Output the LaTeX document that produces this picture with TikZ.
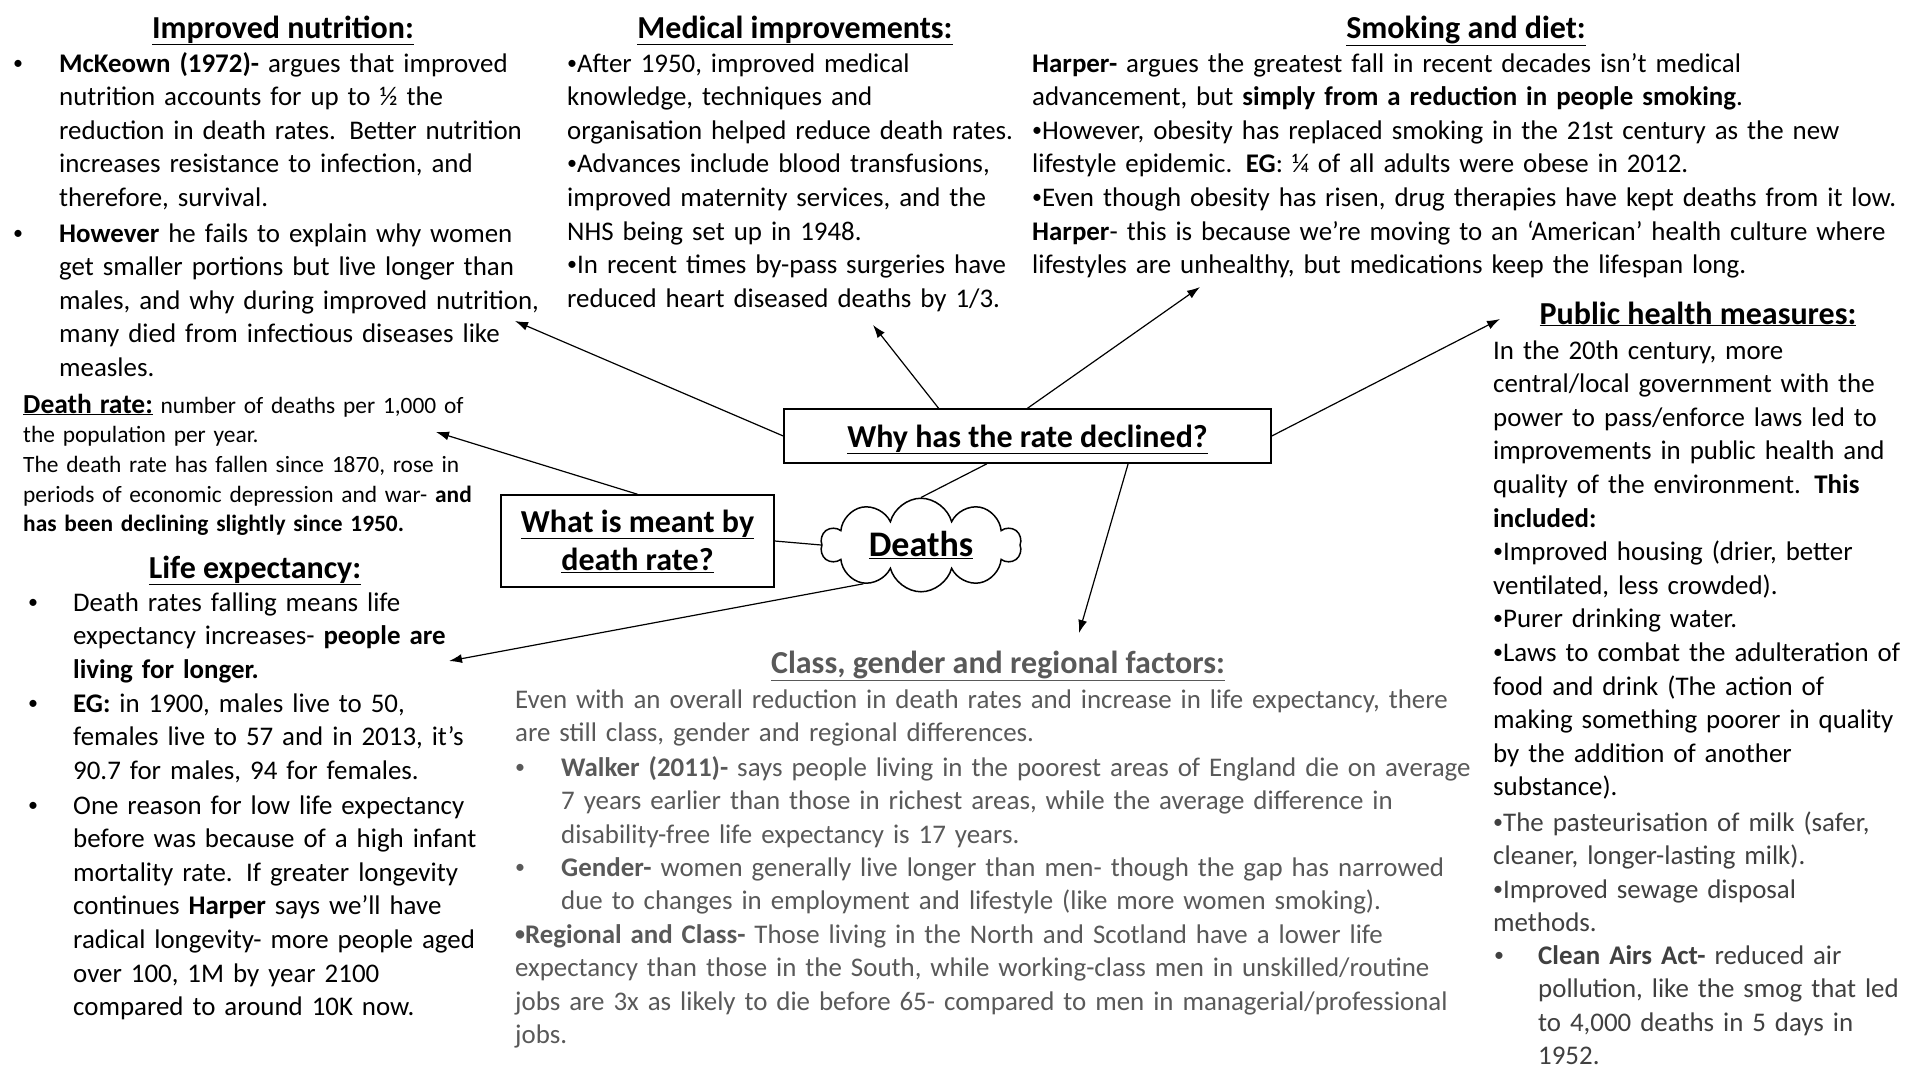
\documentclass[tikz,border=0pt]{standalone}
\usepackage{fontspec}
\setmainfont{Carlito}
\usetikzlibrary{calc,arrows.meta,shapes.symbols}
\definecolor{classgrey}{HTML}{595959}
\definecolor{darkgrey}{HTML}{404040}
\newcommand\myul[1]{\underline{#1}}
\newcommand\sbul{\raisebox{3pt}{\fontsize{20}{20}\selectfont •}}
\begin{document}
\begin{tikzpicture}[x=1pt,y=1pt,
 body/.style={anchor=base west, inner sep=0, text width=1000pt, align=left, font=\fontsize{26.9}{33.6}\selectfont},
 head/.style={anchor=base, inner sep=0, font=\fontsize{32}{38}\selectfont\bfseries},
 dot/.style={anchor=base, inner sep=0, font=\fontsize{26.9}{33.6}\selectfont},
 conn/.style={line width=1.2pt},
 arr/.style={conn, -{Latex[length=13pt,width=9pt]}},
 box/.style={draw, line width=1.5pt, inner sep=0, font=\fontsize{32}{38}\selectfont\bfseries}]
\useasboundingbox (0,0) rectangle (1920,-1080);
\fill[white] (0,0) rectangle (1920,-1080);

% Improved nutrition
\node[head] (hnut) at (283,-38) {\myul{Improved nutrition:}};
\node[dot] (b1) at (18,-72) {\sbul};
\node[body] (nut1) at (59,-72) {\textbf{McKeown (1972)-} argues that improved\\ nutrition accounts for up to ½ the\\ reduction in death rates. Better nutrition\\ increases resistance to infection, and\\ therefore, survival.};
\node[dot] (b2) at (18,-242) {\sbul};
\node[body] (nut2) at (59,-242) {\textbf{However} he fails to explain why women\\ get smaller portions but live longer than\\ males, and why during improved nutrition,\\ many died from infectious diseases like\\ measles.};

% Medical improvements
\node[head] (hmed) at (795,-38) {\myul{Medical improvements:}};
\node[body] (med) at (567,-72) {\sbul After 1950, improved medical\\ knowledge, techniques and\\ organisation helped reduce death rates.\\ \sbul Advances include blood transfusions,\\ improved maternity services, and the\\ NHS being set up in 1948.\\ \sbul In recent times by-pass surgeries have\\ reduced heart diseased deaths by 1/3.};

% Smoking and diet
\node[head] (hsmo) at (1466,-38) {\myul{Smoking and diet:}};
\node[body] (smo) at (1032,-72) {\textbf{Harper-} argues the greatest fall in recent decades isn’t medical\\ advancement, but \textbf{simply from a reduction in people smoking}.\\ \sbul However, obesity has replaced smoking in the 21st century as the new\\ lifestyle epidemic. \textbf{EG}: ¼ of all adults were obese in 2012.\\ \sbul Even though obesity has risen, drug therapies have kept deaths from it low.\\ \textbf{Harper}- this is because we’re moving to an ‘American’ health culture where\\ lifestyles are unhealthy, but medications keep the lifespan long.};

% Public health measures
\node[head] (hpub) at (1698,-324) {\myul{Public health measures:}};
\node[body] (pub1) at (1493,-359) {In the 20th century, more\\ central/local government with the\\ power to pass/enforce laws led to\\ improvements in public health and\\ quality of the environment. \textbf{This}\\ \textbf{included:}\\ \sbul Improved housing (drier, better\\ ventilated, less crowded).\\ \sbul Purer drinking water.\\ \sbul Laws to combat the adulteration of\\ food and drink (The action of\\ making something poorer in quality\\ by the addition of another\\ substance).};
\node[body, text=darkgrey] (pub2) at (1493,-831) {\sbul The pasteurisation of milk (safer,\\ cleaner, longer-lasting milk).\\ \sbul Improved sewage disposal\\ methods.};
\node[dot, text=darkgrey] (b5) at (1499,-964) {\sbul};
\node[body, text=darkgrey] (pub3) at (1538,-964) {\textbf{Clean Airs Act-} reduced air\\ pollution, like the smog that led\\ to 4,000 deaths in 5 days in\\ 1952.};

% Death rate
\node[body, font=\fontsize{23.4}{29.7}\selectfont] (dr) at (23,-413) {{\fontsize{27.5}{29.7}\selectfont\textbf{\myul{Death rate:}}} number of deaths per 1,000 of\\ the population per year.\\ The death rate has fallen since 1870, rose in\\ periods of economic depression and war- \textbf{and}\\ \textbf{has been declining slightly since 1950.}};

% Life expectancy
\node[head] (hlife) at (255,-578) {\myul{Life expectancy:}};
\node[dot] (b3) at (33,-611) {\sbul};
\node[body] (life1) at (73,-611) {Death rates falling means life\\ expectancy increases- \textbf{people are}\\ \textbf{living for longer.}};
\node[dot] (b4) at (33,-712) {\sbul};
\node[body] (life2) at (73,-712) {\textbf{EG:} in 1900, males live to 50,\\ females live to 57 and in 2013, it’s\\ 90.7 for males, 94 for females.};
\node[dot] (b8) at (33,-814) {\sbul};
\node[body] (life3) at (73,-814) {One reason for low life expectancy\\ before was because of a high infant\\ mortality rate. If greater longevity\\ continues \textbf{Harper} says we’ll have\\ radical longevity- more people aged\\ over 100, 1M by year 2100\\ compared to around 10K now.};

% Class, gender and regional factors
\node[head, text=classgrey] (hclass) at (998,-673) {\myul{Class, gender and regional factors:}};
\node[body, text=classgrey] (cl1) at (515,-708) {Even with an overall reduction in death rates and increase in life expectancy, there\\ are still class, gender and regional differences.};
\node[dot, text=classgrey] (b6) at (520,-776) {\sbul};
\node[body, text=classgrey] (cl2) at (561,-776) {\textbf{Walker (2011)-} says people living in the poorest areas of England die on average\\ 7 years earlier than those in richest areas, while the average difference in\\ disability-free life expectancy is 17 years.};
\node[dot, text=classgrey] (b7) at (520,-876) {\sbul};
\node[body, text=classgrey] (cl3) at (561,-876) {\textbf{Gender-} women generally live longer than men- though the gap has narrowed\\ due to changes in employment and lifestyle (like more women smoking).};
\node[body, text=classgrey] (cl4) at (515,-943) {\textbf{\sbul Regional and Class-} Those living in the North and Scotland have a lower life\\ expectancy than those in the South, while working-class men in unskilled/routine\\ jobs are 3x as likely to die before 65- compared to men in managerial/professional\\ jobs.};

% Central boxes
\node[box, minimum width=487, minimum height=54, text height=26pt, text depth=4pt] (why) at (1027.5,-436) {\myul{Why has the rate declined?}};
\node[box, minimum width=273, minimum height=92, align=center] (what) at (637.5,-541) {\myul{What is meant by}\\\myul{death rate?}};
\node[cloud, draw, line width=1.5pt, cloud puffs=10, aspect=2.4, minimum width=200, minimum height=66, inner sep=0, font=\fontsize{36}{40}\selectfont\bfseries] (deaths) at (921,-545) {\myul{Deaths}};

% Arrow tips
\coordinate (tipnut) at (515,-321);
\coordinate (tipmed) at (873,-325);
\coordinate (tipsmo) at (1200,-287);
\coordinate (tippub) at (1500,-319);
\coordinate (tipclass) at (1079,-633);
\coordinate (tipdr) at (436,-432);
\coordinate (tiplife) at (449,-661);

% Connectors
\draw[arr] (why.west) -- (tipnut);
\draw[arr] ($(why.north west)!0.318!(why.north east)$) -- (tipmed);
\draw[arr] (why.north) -- (tipsmo);
\draw[arr] (why.east) -- (tippub);
\draw[arr] ($(why.south west)!0.706!(why.south east)$) -- (tipclass);
\draw[conn] ($(why.south west)!0.417!(why.south east)$) -- (deaths.north);
\draw[arr] (what.north) -- (tipdr);
\draw[conn] (what.east) -- (deaths.west);
\draw[arr] (deaths.214) -- (tiplife);
\end{tikzpicture}
\end{document}
